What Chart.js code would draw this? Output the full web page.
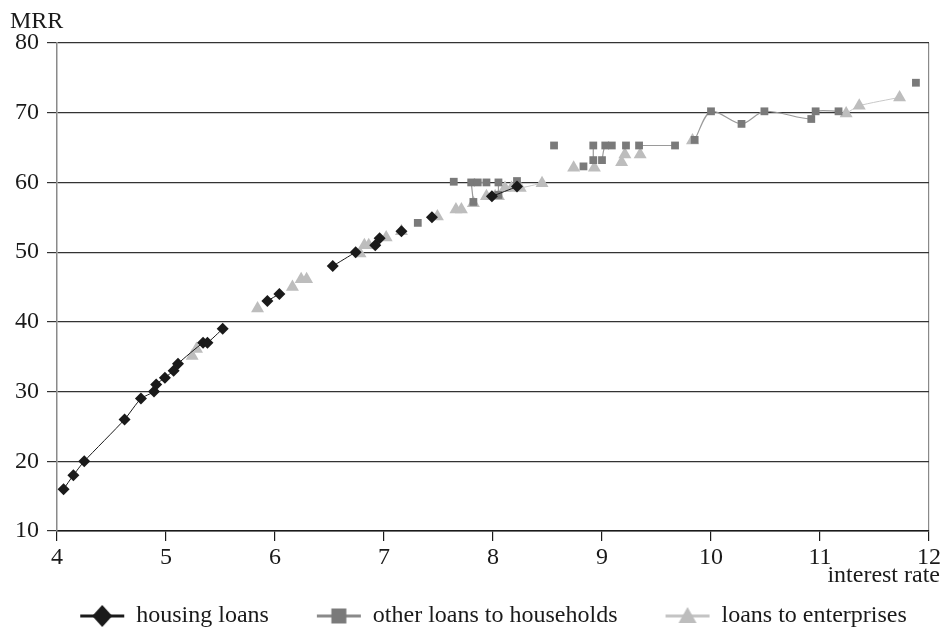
<!DOCTYPE html>
<html><head><meta charset="utf-8">
<script src="https://cdn.jsdelivr.net/npm/chart.js@4/dist/chart.umd.min.js"></script>
<style>html,body{margin:0;padding:0;background:#fff}canvas{display:block}</style>
</head><body>
<canvas id="c" width="943" height="629"></canvas>
<script>
// null marks a break in the connecting line
const housingX = [4.06,4.15,4.25,4.62,4.77,4.89,4.91,4.99,5.07,5.11,5.34,5.38,5.52,null,5.93,6.04,null,6.53,6.74,null,6.92,6.96,null,7.16,null,7.44,null,7.99,8.22];
const housingY = [16.0,18.0,20.0,26.0,29.0,30.0,31.0,32.0,33.0,34.0,37.0,37.0,39.0,null,43.0,44.0,null,48.0,50.0,null,51.0,52.0,null,53.0,null,55.0,null,58.0,59.4];

const otherX = [7.31,null,7.64,null,7.80,7.82,null,7.86,7.94,null,8.05,8.05,null,8.22,null,8.56,null,8.83,null,8.92,8.92,null,9.00,9.03,9.09,null,9.22,null,9.34,9.67,null,9.85,10.00,10.28,10.49,10.92,10.96,11.17,null,11.88];
const otherY = [54.2,null,60.1,null,60.0,57.2,null,60.0,60.0,null,60.0,58.2,null,60.2,null,65.3,null,62.3,null,65.3,63.2,null,63.2,65.3,65.3,null,65.3,null,65.3,65.3,null,66.1,70.2,68.4,70.2,69.1,70.2,70.2,null,74.3];

const enterX = [5.24,null,5.28,null,5.84,null,6.16,null,6.24,6.29,null,6.78,null,6.82,6.86,null,7.02,null,7.16,null,7.49,null,7.66,7.71,null,7.82,null,7.94,null,8.02,8.05,null,8.11,8.17,8.25,8.45,null,8.74,null,8.93,null,9.18,null,9.21,null,9.35,null,9.83,null,11.24,11.36,11.73];
const enterY = [35.1,null,36.1,null,41.9,null,45.0,null,46.1,46.1,null,49.8,null,51.0,51.0,null,52.1,null,53.0,null,55.1,null,56.1,56.1,null,57.0,null,58.0,null,58.0,58.0,null,59.2,59.2,59.2,59.9,null,62.1,null,62.1,null,62.9,null,64.0,null,64.0,null,66.0,null,69.9,71.0,72.2];

const seriesNames = ['housing loans','other loans to households','loans to enterprises'];
const xTicks = [4,5,6,7,8,9,10,11,12];
const yTicks = [10,20,30,40,50,60,70,80];

function toPoints(xs, ys){
  return xs.map((x,i)=>({x: x===null ? (xs[i-1] ?? xs[i+1]) : x, y: ys[i]}));
}

const FONT = '"Liberation Serif", "Times New Roman", serif';

function legendIcon(kind, lineColor, fill){
  const c = document.createElement('canvas');
  c.width = 46; c.height = 24;
  const g = c.getContext('2d');
  g.strokeStyle = lineColor; g.lineWidth = 3;
  g.beginPath(); g.moveTo(1,12); g.lineTo(45,12); g.stroke();
  g.fillStyle = fill;
  g.beginPath();
  if (kind==='diamond'){ g.moveTo(23,1); g.lineTo(33,12); g.lineTo(23,23); g.lineTo(13,12); g.closePath(); }
  else if (kind==='square'){ g.rect(15.5,4.5,15,15); }
  else { g.moveTo(23,3); g.lineTo(32,19); g.lineTo(14,19); g.closePath(); }
  g.fill();
  return c;
}
const icons = [
  legendIcon('diamond','#1a1a1a','#1a1a1a'),
  legendIcon('square','#8a8a8a','#7a7a7a'),
  legendIcon('triangle','#c4c4c4','#bdbdbd')
];

const textPlugin = {
  id:'extraText',
  afterLayout(chart){
    const lg = chart.legend;
    if (lg){
      lg.top = 556; lg.bottom = 629;
      lg.left += 28; lg.right += 28;
    }
  },
  afterDraw(chart){
    const g = chart.ctx;
    g.save();
    g.fillStyle = '#1a1a1a';
    g.font = '24px ' + FONT;
    g.textBaseline = 'alphabetic';
    g.textAlign = 'left';
    g.fillText('MRR', 10, 28);
    g.textAlign = 'right';
    g.fillText('interest rate', 940, 582);
    g.restore();
  }
};

new Chart(document.getElementById('c'), {
  type: 'scatter',
  data: {
    datasets: [
      { label: seriesNames[0], data: toPoints(housingX, housingY), showLine: true,
        borderColor: '#1a1a1a', borderWidth: 1, tension: 0.2,
        pointStyle: 'rectRot', pointRadius: 6, pointBackgroundColor: '#1a1a1a', pointBorderWidth: 0 },
      { label: seriesNames[1], data: toPoints(otherX, otherY), showLine: true,
        borderColor: '#9a9a9a', borderWidth: 1.2, tension: 0.3,
        pointStyle: 'rect', pointRadius: 5.5, pointBackgroundColor: '#7a7a7a', pointBorderWidth: 0 },
      { label: seriesNames[2], data: toPoints(enterX, enterY), showLine: true,
        borderColor: '#c8c8c8', borderWidth: 1, tension: 0.2,
        pointStyle: 'triangle', pointRadius: 7.5, pointBackgroundColor: '#bdbdbd', pointBorderWidth: 0 }
    ]
  },
  options: {
    responsive: false,
    devicePixelRatio: 1,
    animation: false,
    layout: { padding: { left: 0, right: 12, top: 43, bottom: 0 } },
    plugins: {
      tooltip: { enabled: false },
      title: { display: false },
      legend: {
        position: 'bottom',
        maxHeight: 48,
        labels: {
          usePointStyle: true,
          pointStyleWidth: 44,
          padding: 48,
          color: '#1a1a1a',
          font: { family: FONT, size: 24 },
          generateLabels(chart){
            const items = Chart.defaults.plugins.legend.labels.generateLabels(chart);
            items.forEach((it,i)=>{ it.pointStyle = icons[i]; });
            return items;
          }
        }
      }
    },
    scales: {
      x: {
        type: 'linear', min: 4, max: 12,
        afterBuildTicks(s){ s.ticks = xTicks.map(v=>({value:v})); },
        afterFit(s){ s.height = 50; },
        ticks: { color: '#1a1a1a', font: { family: FONT, size: 24 }, padding: 2, maxRotation: 0 },
        grid: {
          drawOnChartArea: true,
          color: (ctx)=> (ctx.tick && ctx.tick.value===12) ? '#8a8a8a' : 'rgba(0,0,0,0)',
          tickColor: '#1a1a1a', tickLength: 10, lineWidth: 1.2
        },
        border: { color: '#1a1a1a', width: 1.5 }
      },
      y: {
        type: 'linear', min: 10, max: 80,
        afterBuildTicks(s){ s.ticks = yTicks.map(v=>({value:v})); },
        afterFit(s){ s.width = 57; },
        ticks: { color: '#1a1a1a', font: { family: FONT, size: 24 }, padding: 8 },
        grid: { color: '#333333', tickColor: '#333333', tickLength: 10, lineWidth: 1.2 },
        border: { color: '#8a8a8a', width: 1.5 }
      }
    }
  },
  plugins: [textPlugin]
});
</script>
</body></html>
